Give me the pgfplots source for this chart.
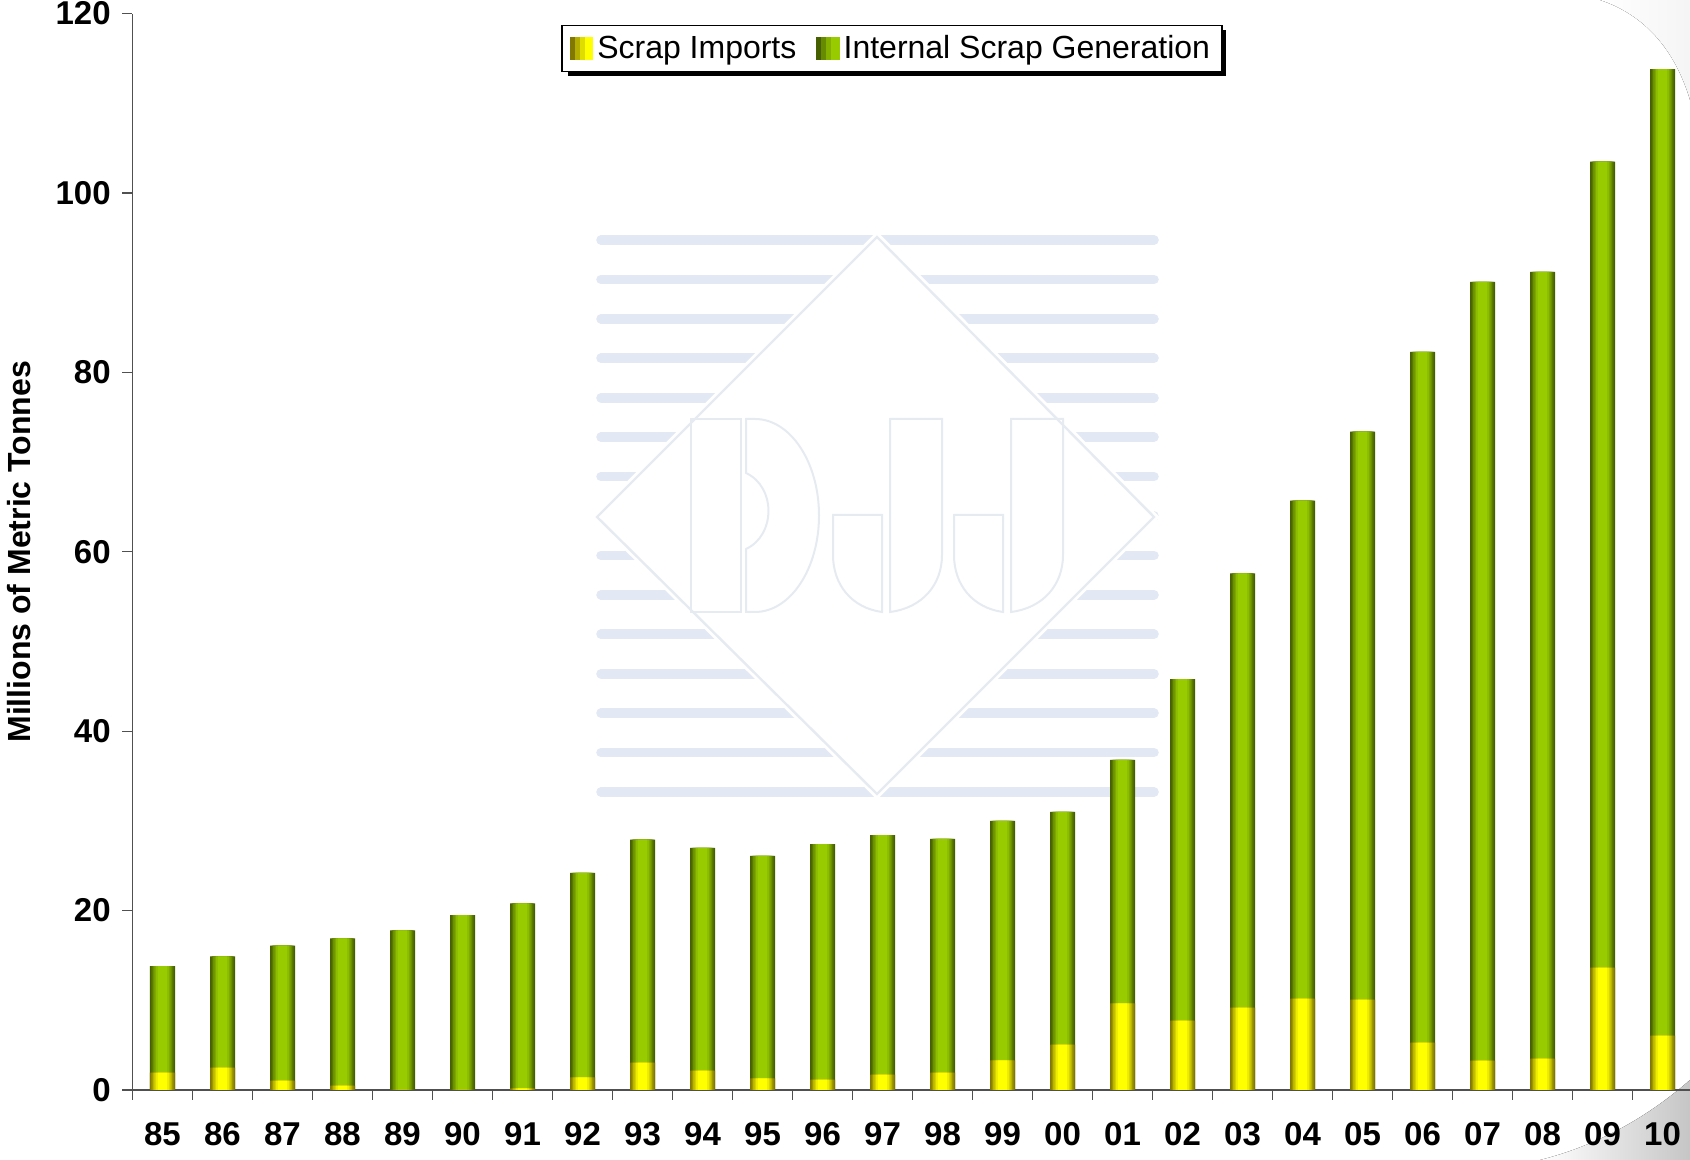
\documentclass[border=0pt]{standalone}
\usepackage{fontspec}
\setmainfont{Liberation Sans}
\usepackage{pgfplots}
\usepackage{pgfplotstable}
\pgfplotsset{compat=1.18}

\definecolor{grnMid}{RGB}{153,204,0}
\definecolor{grnEdge}{RGB}{70,95,0}
\definecolor{yelMid}{RGB}{255,255,0}
\definecolor{yelEdge}{RGB}{128,120,0}
\definecolor{axisgray}{RGB}{80,80,80}
\definecolor{wmstripe}{RGB}{226,233,244}
\definecolor{wmline}{RGB}{230,235,242}

% year index, scrap imports, total scrap supply (Mt)
\pgfplotstableread{
x imp tot
0  1.93 13.8
1  2.50 14.9
2  1.04 16.1
3  0.48 16.9
4  0.00 17.8
5  0.00 19.5
6  0.19 20.8
7  1.41 24.2
8  3.05 27.9
9  2.16 27.0
10 1.30 26.1
11 1.15 27.4
12 1.71 28.4
13 1.93 28.0
14 3.31 30.0
15 5.05 31.0
16 9.66 36.8
17 7.73 45.8
18 9.18 57.6
19 10.18 65.7
20 10.07 73.4
21 5.28 82.3
22 3.27 90.1
23 3.49 91.2
24 13.64 103.5
25 6.06 113.8
}\scrapdata

% cylinder-like bars: narrower, lighter bars laid over each other
\newcommand{\shadedbars}[3]{%
  \addplot[forget plot, ybar, bar shift=0pt, bar width=12.5pt, draw=none, fill=#2] table[x=x, y=#1] {\scrapdata};
  \addplot[forget plot, ybar, bar shift=0pt, bar width=11pt, draw=none, fill=#3!22!#2] table[x=x, y=#1] {\scrapdata};
  \addplot[forget plot, ybar, bar shift=0pt, bar width=9.5pt, draw=none, fill=#3!45!#2] table[x=x, y=#1] {\scrapdata};
  \addplot[forget plot, ybar, bar shift=0pt, bar width=8pt, draw=none, fill=#3!67!#2] table[x=x, y=#1] {\scrapdata};
  \addplot[forget plot, ybar, bar shift=0pt, bar width=6.5pt, draw=none, fill=#3!86!#2] table[x=x, y=#1] {\scrapdata};
  \addplot[forget plot, ybar, bar shift=0pt, bar width=4.7pt, draw=none, fill=#3] table[x=x, y=#1] {\scrapdata};
}
% legend swatch, dark at the left and bright at the right
\newcommand{\swatch}[2]{%
  \fill[#1] (0pt,-5.5pt) rectangle (11pt,5.5pt);
  \fill[#2!40!#1] (2.5pt,-5.5pt) rectangle (11pt,5.5pt);
  \fill[#2!75!#1] (5pt,-5.5pt) rectangle (11pt,5.5pt);
  \fill[#2] (7.5pt,-5.5pt) rectangle (11pt,5.5pt);
}

\begin{document}
\begin{tikzpicture}
% watermark and page decoration, in reference pixels (origin bottom left)
\begin{scope}[x=0.5pt, y=0.5pt, shift={(-66.25pt,-35pt)}]
  \fill[left color=white, right color=gray!45] (1540,0) .. controls (1600,15) and (1650,45) .. (1690,80) -- (1690,0) -- cycle;
  \fill[left color=white, right color=gray!8] (1600,1160) -- (1690,1160) -- (1690,1060) .. controls (1675,1110) and (1645,1145) .. (1600,1160);
  \foreach \i in {0,...,14}
    \draw[wmstripe, line width=4.8pt, line cap=round] (601,{920-\i*39.43}) -- (1154,{920-\i*39.43});
  \filldraw[fill=white, draw=white, line width=4pt] (877,923) -- (1154,643) -- (877,366) -- (597,643) -- cycle;
  \draw[wmline, line width=1.2pt] (877,923) -- (1154,643) -- (877,366) -- (597,643) -- cycle;
  \begin{scope}[wmline, line width=1pt]
    \draw (691,548) rectangle (741,741);
    \draw (746,741) -- (755,741) arc[start angle=90, end angle=-90, x radius=64, y radius=96.5]
      -- (746,548) -- (746,611) .. controls (776,625) and (776,673) .. (746,687) -- cycle;
    \foreach \dx in {0,121} {
      \draw ({833+\dx},645) -- ({882+\dx},645) -- ({882+\dx},548)
        .. controls ({852+\dx},552) and ({833+\dx},575) .. ({833+\dx},605) -- cycle;
      \draw ({890+\dx},741) -- ({942+\dx},741) -- ({942+\dx},605)
        .. controls ({942+\dx},575) and ({922+\dx},552) .. ({890+\dx},548) -- cycle;
    }
  \end{scope}
  % legend shadow
  \fill[black] (568,1084) rectangle (1226,1130);
\end{scope}

\begin{axis}[
    at={(0pt,0pt)}, anchor=south west,
    scale only axis,
    width=780pt, height=538.2pt,
    xmin=-0.5, xmax=25.5,
    ymin=0, ymax=120,
    axis lines*=left,
    axis line style={draw=axisgray, line width=0.6pt, -},
    tick align=outside,
    major tick length=5pt,
    tick style={draw=axisgray, line width=0.6pt},
    xtick={-0.5,0.5,...,25.5},
    x tick label as interval,
    xticklabels={85,86,87,88,89,90,91,92,93,94,95,96,97,98,99,00,01,02,03,04,05,06,07,08,09,10},
    ytick={0,20,...,120},
    ticklabel style={font=\bfseries\fontsize{16.5}{19}\selectfont},
    /pgf/number format/assume math mode=true,
    yticklabel style={xshift=-2.4pt},
    xticklabel style={yshift=-7.5pt},
    ylabel={Millions of Metric Tonnes},
    every axis y label/.style={at={(rel axis cs:0,0.5)}, xshift=-56.5pt, rotate=90, anchor=center,
        font=\bfseries\fontsize{16}{19}\selectfont},
    legend columns=2,
    legend cell align=left,
    legend style={at={(0.4869,0.9894)}, anchor=north,
        draw=black, line width=0.6pt, fill=white,
        font=\fontsize{16}{19}\selectfont,
        inner xsep=4pt, inner ysep=3pt,
        /tikz/every even column/.append style={column sep=8pt}},
]
\shadedbars{tot}{grnEdge}{grnMid}
\shadedbars{imp}{yelEdge}{yelMid}
\addlegendimage{legend image code/.code={\swatch{yelEdge}{yelMid}}}
\addlegendentry{Scrap Imports}
\addlegendimage{legend image code/.code={\swatch{grnEdge}{grnMid}}}
\addlegendentry{Internal Scrap Generation}
\end{axis}

\begin{scope}[x=0.5pt, y=0.5pt, shift={(-66.25pt,-35pt)}]
  \pgfresetboundingbox
  \path[use as bounding box] (0,0) rectangle (1690,1160);
\end{scope}
\end{tikzpicture}
\end{document}
